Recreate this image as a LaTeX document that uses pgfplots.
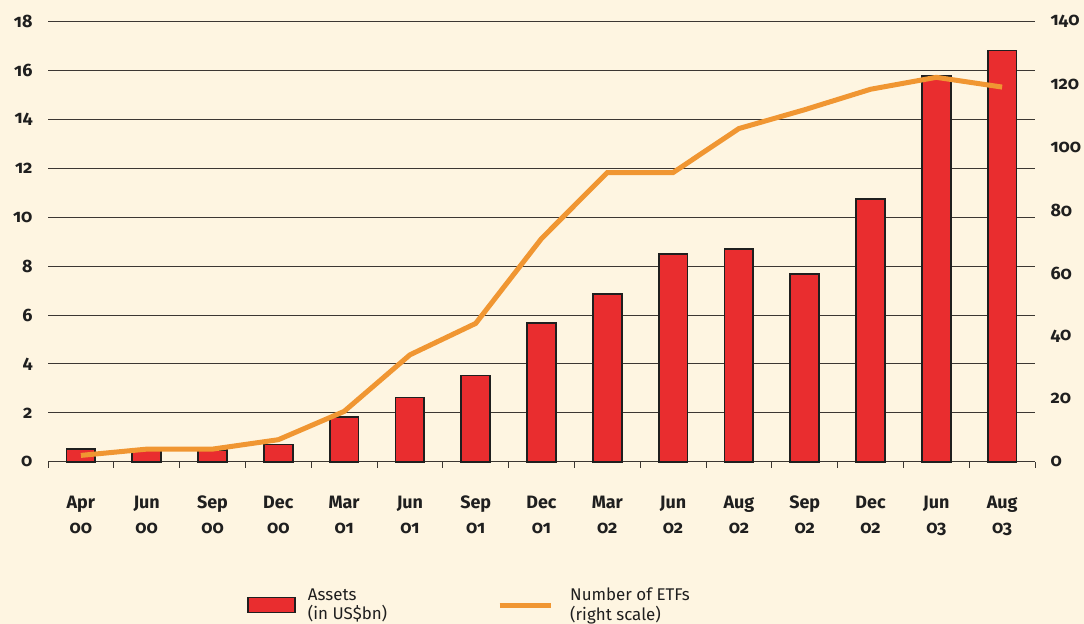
\documentclass[border=0pt]{standalone}
\usepackage{pgfplots}
\pgfplotsset{compat=1.18}
\usepackage{fontspec}
\setmainfont{Fira Sans}[Numbers=OldStyle]
\definecolor{bg}{RGB}{254,245,225}
\definecolor{barred}{RGB}{233,45,47}
\definecolor{etforange}{RGB}{240,150,50}
\definecolor{gridc}{RGB}{60,55,50}
\begin{document}
\begin{tikzpicture}
\useasboundingbox[fill=bg] (0,0) rectangle (1084bp,624bp);
\begin{axis}[
  at={(48bp,162.3bp)}, anchor=south west,
  scale only axis, width=987bp, height=440bp,
  xmin=-0.5, xmax=14.5, ymin=0, ymax=18,
  axis line style={draw=none},
  xtick={0,...,14},
  xticklabels={{Apr\\00},{Jun\\00},{Sep\\00},{Dec\\00},{Mar\\01},{Jun\\01},{Sep\\01},{Dec\\01},{Mar\\02},{Jun\\02},{Aug\\02},{Sep\\02},{Dec\\02},{Jun\\03},{Aug\\03}},
  xticklabel style={align=center, font=\fontsize{18}{25}\selectfont\bfseries, text=black!88, yshift=-31bp},
  ytick={0,2,...,18},
  yticklabel style={font=\fontsize{18}{20}\selectfont\bfseries, text=black!88, xshift=-12bp},
  /pgf/number format/assume math mode=true,
  major tick length=0pt,
  tick pos=left, tick align=outside,
  extra x ticks={-0.5,0.5,...,14.5},
  extra x tick labels={},
  extra x tick style={major tick length=6bp, tick style={gridc, line width=1bp}, grid=none},
  ymajorgrids, grid style={gridc, line width=1bp},
  clip=false,
]
\addplot[ybar, bar width=0.44, fill=barred, draw=black!88, line width=1.8bp] coordinates {
(0,0.51) (1,0.48) (2,0.47) (3,0.70) (4,1.82) (5,2.63) (6,3.53) (7,5.66) (8,6.87) (9,8.50) (10,8.69) (11,7.68) (12,10.74) (13,15.79) (14,16.82)};
\end{axis}
\begin{axis}[
  at={(48bp,162.3bp)}, anchor=south west,
  scale only axis, width=987bp, height=440bp,
  xmin=-0.5, xmax=14.5, ymin=0, ymax=140,
  axis x line=none, axis y line*=right,
  y axis line style={draw=none},
  ytick={0,20,...,140},
  major tick length=0pt,
  yticklabel style={font=\fontsize{18}{20}\selectfont\bfseries, text=black!88, xshift=12bp},
  /pgf/number format/assume math mode=true,
  clip=false,
  legend columns=2,
  legend style={at={(0.2016,-0.3257)}, anchor=west, draw=none, fill=none, inner sep=0pt,
    cells={align=left, anchor=west}, font=\fontsize{17}{19.5}\selectfont, text=black!88},
  /tikz/every odd column/.append style={column sep=10bp},
  /tikz/every even column/.append style={column sep=108bp},
]
\addlegendimage{legend image code/.code={\draw[fill=barred, draw=black!88, line width=1.8bp] (0bp,-7.5bp) rectangle (47bp,7.5bp);}}
\addlegendentry{Assets\\(in US\$bn)}
\addplot[etforange, line width=5bp, legend image code/.code={\draw[etforange, line width=5bp] (0bp,0bp) -- (51bp,0bp); \path (56bp,0bp);}] coordinates {
(0,2) (1,4) (2,4) (3,7) (4,16) (5,34) (6,44) (7,71) (8,92) (9,92) (10,106) (11,112) (12,118.5) (13,122.3) (14,119.2)};
\addlegendentry{Number of ETFs\\(right scale)}
\end{axis}
\end{tikzpicture}
\end{document}
